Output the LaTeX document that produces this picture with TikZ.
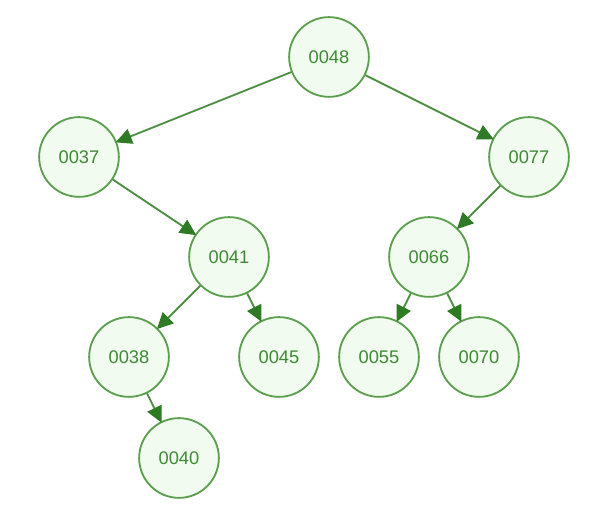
\documentclass[tikz,border=0pt]{standalone}
\usepackage{fontspec}
\setmainfont{Liberation Sans}
\usetikzlibrary{arrows.meta}
\definecolor{keyline}{HTML}{5A9E4E}
\definecolor{keyfill}{HTML}{F1FBEF}
\definecolor{keytext}{HTML}{3E8A34}
\definecolor{edgeline}{HTML}{4E8E42}
\definecolor{edgetip}{HTML}{2F7A24}
\begin{document}
\begin{tikzpicture}[x=0.025cm,y=0.025cm,
  key/.style={circle, draw=keyline, line width=1.3pt, fill=keyfill, text=keytext, minimum size=56.7pt, inner sep=0pt, font=\fontsize{13}{15}\selectfont},
  edge/.style={draw=edgeline, line width=1.3pt, -{Triangle[length=11.5pt,width=11pt,color=edgetip]}, shorten >=-1pt}]
\useasboundingbox (0,0) rectangle (595,519);

\node[key] (k48) at (329,462) {0048};
\node[key] (k37) at (79,362) {0037};
\node[key] (k77) at (529,362) {0077};
\node[key] (k41) at (229,262) {0041};
\node[key] (k66) at (429,262) {0066};
\node[key] (k38) at (129,162) {0038};
\node[key] (k45) at (279,162) {0045};
\node[key] (k55) at (379,162) {0055};
\node[key] (k70) at (479,162) {0070};
\node[key] (k40) at (179,61) {0040};

\draw[edge] (k48) -- (k37);
\draw[edge] (k48) -- (k77);
\draw[edge] (k37) -- (k41);
\draw[edge] (k77) -- (k66);
\draw[edge] (k41) -- (k38);
\draw[edge] (k41) -- (k45);
\draw[edge] (k66) -- (k55);
\draw[edge] (k66) -- (k70);
\draw[edge] (k38) -- (k40);
\end{tikzpicture}
\end{document}
